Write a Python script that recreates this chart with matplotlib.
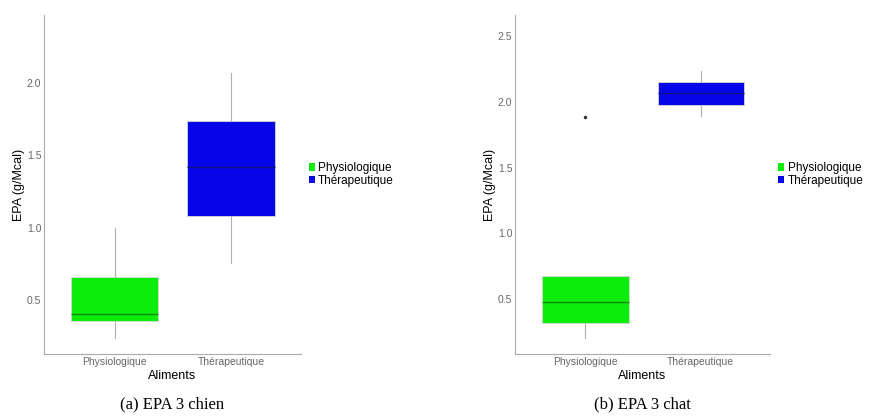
import matplotlib
matplotlib.use("Agg")
import matplotlib.pyplot as plt
from matplotlib.patches import Patch

# catégories et statistiques
aliments = ["Physiologique", "Thérapeutique"]
couleurs = ["#0aee0a", "#0505e8"]
couleurs_med = ["#0a8a0a", "#101080"]

# (a) EPA 3 chien
chien_whislo = [0.24, 0.755]
chien_q1 = [0.355, 1.083]
chien_med = [0.403, 1.42]
chien_q3 = [0.659, 1.738]
chien_whishi = [1.0, 2.07]
chien_fliers = [[], []]

# (b) EPA 3 chat
chat_whislo = [0.205, 1.89]
chat_q1 = [0.318, 1.98]
chat_med = [0.477, 2.066]
chat_q3 = [0.674, 2.15]
chat_whishi = [0.674, 2.236]
chat_fliers = [[1.886], []]

plt.rcParams['font.family'] = ['Liberation Sans', 'DejaVu Sans']


def stats(lo, q1, med, q3, hi, fl):
    return [dict(whislo=lo[i], q1=q1[i], med=med[i], q3=q3[i], whishi=hi[i],
                 fliers=fl[i], label=aliments[i]) for i in range(len(aliments))]


def panel(ax, st, ylim, yticks, caption):
    bp = ax.bxp(st, positions=[1, 2], widths=0.75, patch_artist=True,
                showcaps=False,
                medianprops=dict(lw=1.0),
                whiskerprops=dict(color="#b0b0b0", lw=0.8),
                flierprops=dict(marker="o", markersize=1.5, markerfacecolor="#333333",
                                markeredgecolor="#333333"))
    for b, c in zip(bp["boxes"], couleurs):
        b.set_facecolor(c)
        b.set_edgecolor("#d8d8d8")
        b.set_linewidth(0.6)
    for m, c in zip(bp["medians"], couleurs_med):
        m.set_color(c)
    ax.set_xlim(0.39, 2.6)
    ax.set_ylim(*ylim)
    ax.set_yticks(yticks)
    ax.set_yticklabels([f"{t:.1f}" for t in yticks])
    ax.set_xticks([1, 2])
    ax.set_xticklabels(aliments)
    ax.tick_params(length=0, labelsize=7.5, labelcolor="#666666", pad=2)
    for s in ["top", "right"]:
        ax.spines[s].set_visible(False)
    for s in ["left", "bottom"]:
        ax.spines[s].set_color("#aaaaaa")
        ax.spines[s].set_linewidth(0.8)
    ax.set_xlabel("Aliments", fontsize=9, labelpad=2)
    ax.set_ylabel("EPA (g/Mcal)", fontsize=9, labelpad=1)
    handles = [Patch(facecolor=c, edgecolor="none") for c in couleurs]
    ax.legend(handles, aliments, loc="center left", bbox_to_anchor=(0.99, 0.53),
              frameon=False, fontsize=8.5, handlelength=0.5, handleheight=0.6,
              handletextpad=0.3, labelspacing=0.05)
    ax.text(0.5, -0.125, caption, transform=ax.transAxes, ha="center", va="top",
            fontsize=12, family="Liberation Serif")


fig = plt.figure(figsize=(8.82, 4.2), dpi=100)
ax1 = fig.add_axes([0.0499, 0.157, 0.291, 0.807])
ax2 = fig.add_axes([0.584, 0.157, 0.289, 0.807])

panel(ax1, stats(chien_whislo, chien_q1, chien_med, chien_q3, chien_whishi, chien_fliers),
      (0.128, 2.469), [0.5, 1.0, 1.5, 2.0], "(a) EPA 3 chien")
panel(ax2, stats(chat_whislo, chat_q1, chat_med, chat_q3, chat_whishi, chat_fliers),
      (0.083, 2.66), [0.5, 1.0, 1.5, 2.0, 2.5], "(b) EPA 3 chat")

fig.savefig("out.png", dpi=100)
